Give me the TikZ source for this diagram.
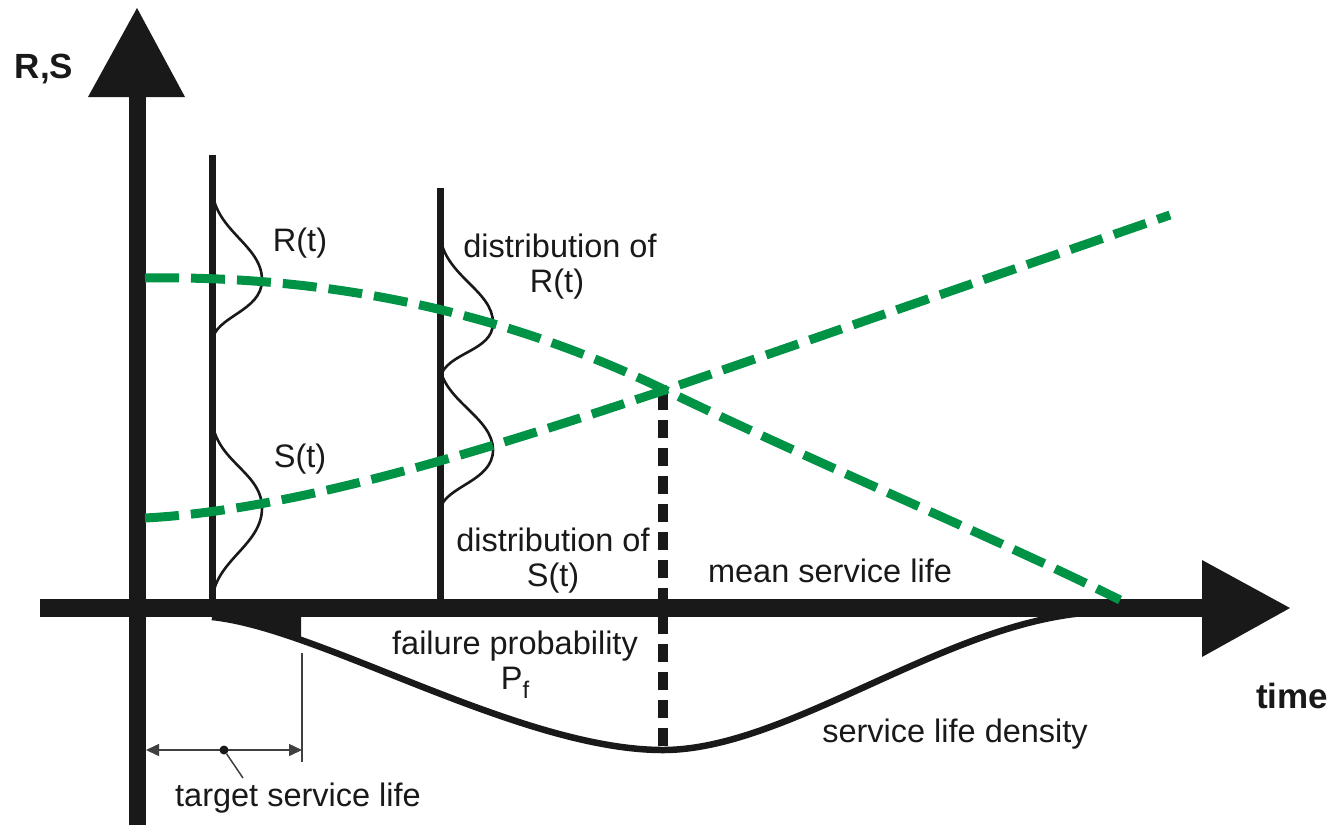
\documentclass[tikz,border=0pt]{standalone}
\usepackage{fontspec}
\setmainfont{Liberation Sans}
\usetikzlibrary{arrows.meta}
\definecolor{grn}{RGB}{0,146,69}
\begin{document}
\begin{tikzpicture}[x=1pt,y=-1pt,
  lbl/.style={font=\fontsize{32.5}{36}\selectfont, inner sep=0pt, text=black!90},
  boldlbl/.style={font=\fontsize{35}{38}\selectfont\bfseries, inner sep=0pt, text=black!90},
  axisline/.style={line width=18pt, black!90},
  headfill/.style={fill=black!90},
  sampleline/.style={line width=7pt, black!90},
  bell/.style={line width=2.6pt, black!90},
  greencurve/.style={line width=9pt, grn, dash pattern=on 34pt off 12pt},
  meanline/.style={line width=9.5pt, black!90, dash pattern=on 18pt off 10pt},
  density/.style={line width=6.5pt, black!90},
  dimline/.style={line width=1.5pt, black!75}]
\useasboundingbox (0,0) rectangle (1335,825);

% coordinates
\coordinate (yb) at (137,825);
\coordinate (yt) at (137,96);
\coordinate (xl) at (40,608);
\coordinate (xr) at (1203,608);
\coordinate (s1t) at (212,155);
\coordinate (s1b) at (212,608);
\coordinate (s2t) at (440,188);
\coordinate (s2b) at (440,608);
\coordinate (cross) at (665,390);
\coordinate (mtop) at (663,392);
\coordinate (mbot) at (663,750);

% sample lines
\draw[sampleline] (s1t) -- (s1b);
\draw[sampleline] (s2t) -- (s2b);

% distributions on first line
\draw[bell] (212,190) .. controls (216,232) and (262,245) .. (262,280)
            .. controls (262,312) and (214,316) .. (212,342);
\draw[bell] (212,420) .. controls (216,462) and (262,472) .. (262,508)
            .. controls (262,546) and (214,560) .. (212,602);
% distributions on second line
\draw[bell] (440,235) .. controls (444,276) and (493,290) .. (493,323)
            .. controls (493,352) and (446,352) .. (440,378);
\draw[bell] (440,368) .. controls (446,402) and (493,418) .. (493,450)
            .. controls (493,482) and (444,486) .. (440,510);

% failure probability area
\begin{scope}
  \clip (212,600) rectangle (301,700);
  \fill[black!90] (212,608) -- (212,617) .. controls (320,628) and (520,750) .. (663,750) -- (663,608) -- cycle;
\end{scope}

% density curve
\draw[density] (212,617) .. controls (320,628) and (520,750) .. (663,750)
               .. controls (790,750) and (950,618) .. (1098,612);

% mean service life line
\draw[meanline] (mtop) -- (mbot);

% axes
\draw[axisline] (xl) -- (xr);
\fill[headfill] (1202,560) -- (1290,608) -- (1202,657) -- cycle;
\draw[axisline, line width=17pt] (yb) -- (yt);
\fill[headfill] (88,97) -- (137,8) -- (185,97) -- cycle;

% green curves
\draw[greencurve] (145,278) .. controls (350,275) and (520,320) .. (cross)
                  .. controls (820,465) and (1000,540) .. (1120,600);
\draw[greencurve] (145,518) .. controls (300,510) and (500,445) .. (cross)
                  .. controls (830,333) and (1000,274) .. (1170,215);

% target service life dimension
\coordinate (dl) at (146,750);
\coordinate (dr) at (302,750);
\coordinate (vt) at (302,653);
\coordinate (vb) at (302,762);
\draw[dimline] (vt) -- (vb);
\draw[dimline, {Triangle[length=13pt,width=12pt]}-{Triangle[length=13pt,width=12pt]}] (dl) -- (dr);
\node[circle, fill=black!90, inner sep=0pt, minimum size=9pt] (dot) at (224,750) {};
\coordinate (lead) at (243,778);
\draw[dimline] (dot) -- (lead);

% labels
\node[boldlbl] (rs) at (44,69) {R,S};
\node[boldlbl] (time) at (1292,696) {time};
\node[lbl] (rt) at (300,243) {R(t)};
\node[lbl] (st) at (300,459) {S(t)};
\node[lbl] (dr1) at (560,246) {distribution of};
\node[lbl] (dr2) at (557,284) {R(t)};
\node[lbl] (ds1) at (553,540) {distribution of};
\node[lbl] (ds2) at (553,578) {S(t)};
\node[lbl] (msl) at (830,571) {mean service life};
\node[lbl] (fp) at (515,646) {failure probability};
\node[lbl, anchor=center] (pf) at (515,683) {P\raisebox{-9pt}{\fontsize{24}{26}\selectfont f}};
\node[lbl] (sld) at (955,734) {service life density};
\node[lbl] (tsl) at (298,798) {target service life};
\end{tikzpicture}
\end{document}
